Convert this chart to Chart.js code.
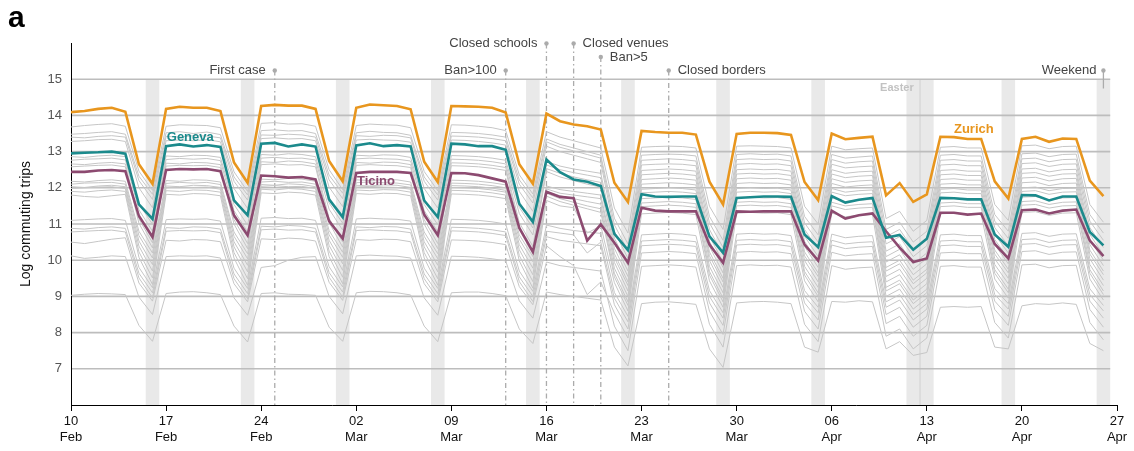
<!DOCTYPE html>
<html>
<head>
<meta charset="utf-8">
<script src="https://cdn.jsdelivr.net/npm/chart.js@4.4.1/dist/chart.umd.min.js"></script>
<style>
html, body { margin: 0; padding: 0; background: #fff; }
</style>
</head>
<body>
<canvas id="commute-chart" width="1134" height="451"></canvas>
<script>
// days since Mon 10 Feb 2020
const dayIndex = [];
for (let d = 0; d <= 76; d++) dayIndex.push(d);

const tickDays = [0, 7, 14, 21, 28, 35, 42, 49, 56, 63, 70, 77];
const tickLabels = [['10', 'Feb'], ['17', 'Feb'], ['24', 'Feb'], ['02', 'Mar'], ['09', 'Mar'], ['16', 'Mar'],
    ['23', 'Mar'], ['30', 'Mar'], ['06', 'Apr'], ['13', 'Apr'], ['20', 'Apr'], ['27', 'Apr']];
const yTicks = [7, 8, 9, 10, 11, 12, 13, 14, 15];

const weekendDays = [6, 13, 20, 27, 34, 41, 48, 55, 62, 63, 69, 76];
const eventDays = [15, 32, 35, 37, 39, 44];
const eventNames = ['First case', 'Ban>100', 'Closed schools', 'Closed venues', 'Ban>5', 'Closed borders'];

const zurich = [
    14.09, 14.12, 14.18, 14.21, 14.10, 12.65, 12.11,
    14.18, 14.24, 14.21, 14.21, 14.12, 12.70, 12.14,
    14.26, 14.29, 14.27, 14.27, 14.18, 12.74, 12.18,
    14.21, 14.30, 14.28, 14.26, 14.17, 12.72, 12.16,
    14.26, 14.25, 14.24, 14.21, 14.08, 12.65, 12.11,
    14.05, 13.84, 13.75, 13.70, 13.61, 12.14, 11.61,
    13.57, 13.54, 13.52, 13.52, 13.47, 12.17, 11.54,
    13.49, 13.52, 13.52, 13.51, 13.46, 12.16, 11.66,
    13.50, 13.34, 13.38, 13.41, 11.79, 12.13, 11.61, 11.82,
    13.41, 13.40, 13.35, 13.35, 12.18, 11.70,
    13.35, 13.41, 13.27, 13.36, 13.35, 12.20, 11.77];
const geneva = [
    12.95, 12.97, 12.98, 13.00, 12.94, 11.54, 11.14,
    13.15, 13.20, 13.14, 13.18, 13.13, 11.65, 11.24,
    13.22, 13.24, 13.14, 13.20, 13.14, 11.68, 11.19,
    13.17, 13.23, 13.15, 13.18, 13.14, 11.65, 11.19,
    13.22, 13.20, 13.15, 13.15, 13.05, 11.56, 11.06,
    12.78, 12.43, 12.23, 12.17, 12.05, 10.73, 10.28,
    11.82, 11.76, 11.75, 11.76, 11.76, 10.66, 10.21,
    11.72, 11.74, 11.76, 11.76, 11.75, 10.71, 10.36,
    11.77, 11.59, 11.67, 11.72, 10.62, 10.70, 10.29, 10.59,
    11.72, 11.71, 11.68, 11.68, 10.71, 10.37,
    11.80, 11.79, 11.65, 11.76, 11.76, 10.78, 10.41];
const ticino = [
    12.44, 12.44, 12.48, 12.49, 12.46, 11.22, 10.64,
    12.49, 12.52, 12.51, 12.52, 12.46, 11.24, 10.69,
    12.34, 12.32, 12.28, 12.30, 12.23, 11.08, 10.60,
    12.41, 12.44, 12.44, 12.44, 12.41, 11.26, 10.69,
    12.41, 12.40, 12.35, 12.26, 12.17, 10.89, 10.23,
    11.89, 11.75, 11.71, 10.54, 10.99, 10.48, 9.93,
    11.45, 11.37, 11.35, 11.35, 11.35, 10.43, 9.93,
    11.35, 11.34, 11.35, 11.35, 11.35, 10.43, 9.99,
    11.37, 11.15, 11.24, 11.29, 10.80, 10.35, 9.95, 10.05,
    11.31, 11.31, 11.26, 11.29, 10.45, 10.05,
    11.38, 11.40, 11.29, 11.37, 11.40, 10.54, 10.11];

// other cantons
const g01 = [
    13.68, 13.72, 13.75, 13.77, 13.70, 12.46, 11.93,
    13.70, 13.74, 13.73, 13.72, 13.66, 12.44, 11.90,
    13.78, 13.80, 13.76, 13.77, 13.70, 12.50, 11.95,
    13.72, 13.76, 13.74, 13.73, 13.66, 12.45, 11.92,
    13.74, 13.73, 13.70, 13.66, 13.58, 12.36, 11.83,
    13.55, 13.40, 13.30, 13.20, 13.10, 11.44, 10.75,
    13.12, 13.14, 13.15, 13.14, 13.10, 11.49, 10.85,
    13.15, 13.16, 13.15, 13.14, 13.10, 11.49, 11.00,
    13.15, 13.05, 13.08, 13.10, 11.15, 11.35, 10.80, 11.10,
    13.12, 13.14, 13.10, 13.10, 11.54, 11.10,
    13.16, 13.18, 13.08, 13.14, 13.15, 11.54, 11.05];
const g02 = [
    13.48, 13.50, 13.53, 13.55, 13.48, 12.32, 11.82,
    13.52, 13.55, 13.50, 13.54, 13.47, 12.30, 11.80,
    13.58, 13.60, 13.57, 13.58, 13.50, 12.35, 11.85,
    13.52, 13.56, 13.53, 13.52, 13.45, 12.30, 11.80,
    13.53, 13.52, 13.50, 13.46, 13.40, 12.22, 11.72,
    13.35, 13.20, 13.10, 13.00, 12.90, 11.16, 10.45,
    12.90, 12.92, 12.93, 12.92, 12.88, 11.21, 10.55,
    12.92, 12.94, 12.92, 12.93, 12.88, 11.21, 10.70,
    12.92, 12.82, 12.85, 12.88, 10.85, 11.05, 10.50, 10.80,
    12.90, 12.92, 12.88, 12.88, 11.26, 10.80,
    12.94, 12.96, 12.86, 12.92, 12.93, 11.26, 10.75];
const g03 = [
    13.40, 13.38, 13.42, 13.44, 13.40, 12.20, 11.68,
    13.42, 13.40, 13.44, 13.43, 13.38, 12.18, 11.66,
    13.46, 13.45, 13.48, 13.46, 13.40, 12.22, 11.70,
    13.44, 13.42, 13.45, 13.44, 13.38, 12.18, 11.66,
    13.43, 13.42, 13.40, 13.36, 13.30, 12.10, 11.58,
    13.27, 13.12, 13.02, 12.92, 12.82, 10.98, 10.25,
    12.76, 12.78, 12.80, 12.78, 12.74, 11.03, 10.35,
    12.78, 12.80, 12.78, 12.79, 12.74, 11.03, 10.50,
    12.78, 12.68, 12.72, 12.74, 10.65, 10.85, 10.30, 10.60,
    12.76, 12.78, 12.74, 12.74, 11.08, 10.60,
    12.80, 12.82, 12.72, 12.78, 12.79, 11.08, 10.55];
const g04 = [
    13.28, 13.30, 13.33, 13.34, 13.28, 12.00, 11.45,
    13.30, 13.32, 13.30, 13.33, 13.27, 11.98, 11.43,
    13.36, 13.38, 13.35, 13.36, 13.30, 12.02, 11.48,
    13.32, 13.34, 13.32, 13.31, 13.26, 11.98, 11.44,
    13.32, 13.31, 13.28, 13.24, 13.18, 11.90, 11.35,
    13.15, 13.00, 12.90, 12.80, 12.70, 10.80, 10.05,
    12.63, 12.65, 12.66, 12.65, 12.61, 10.85, 10.15,
    12.65, 12.67, 12.65, 12.66, 12.61, 10.85, 10.30,
    12.65, 12.55, 12.58, 12.60, 10.45, 10.65, 10.10, 10.40,
    12.63, 12.65, 12.61, 12.61, 10.90, 10.40,
    12.67, 12.69, 12.59, 12.65, 12.66, 10.90, 10.35];
const g05 = [
    12.86, 12.84, 12.88, 12.90, 12.86, 11.56, 10.99,
    12.88, 12.86, 12.90, 12.89, 12.84, 11.54, 10.97,
    12.92, 12.90, 12.94, 12.92, 12.86, 11.58, 11.02,
    12.90, 12.88, 12.91, 12.90, 12.84, 11.54, 10.98,
    12.89, 12.88, 12.86, 12.82, 12.76, 11.46, 10.89,
    12.73, 12.60, 12.52, 12.46, 12.40, 10.61, 9.85,
    12.48, 12.50, 12.52, 12.50, 12.46, 10.66, 9.95,
    12.50, 12.52, 12.50, 12.51, 12.46, 10.66, 10.10,
    12.50, 12.40, 12.44, 12.46, 10.25, 10.45, 9.90, 10.20,
    12.48, 12.50, 12.46, 12.46, 10.71, 10.20,
    12.52, 12.54, 12.44, 12.50, 12.51, 10.71, 10.15];
const g06 = [
    12.76, 12.79, 12.80, 12.82, 12.77, 11.39, 10.80,
    12.78, 12.81, 12.79, 12.81, 12.75, 11.37, 10.78,
    12.82, 12.84, 12.81, 12.82, 12.77, 11.41, 10.83,
    12.80, 12.82, 12.80, 12.79, 12.74, 11.37, 10.79,
    12.79, 12.78, 12.76, 12.72, 12.66, 11.29, 10.70,
    12.63, 12.50, 12.42, 12.35, 12.28, 10.47, 9.70,
    12.36, 12.38, 12.40, 12.38, 12.34, 10.52, 9.80,
    12.38, 12.40, 12.38, 12.39, 12.34, 10.52, 9.95,
    12.38, 12.28, 12.32, 12.34, 10.10, 10.30, 9.75, 10.05,
    12.36, 12.38, 12.34, 12.34, 10.57, 10.05,
    12.40, 12.42, 12.32, 12.38, 12.39, 10.57, 10.00];
const g07 = [
    12.66, 12.64, 12.68, 12.70, 12.66, 11.14, 10.48,
    12.68, 12.66, 12.70, 12.69, 12.64, 11.12, 10.46,
    12.72, 12.70, 12.74, 12.72, 12.66, 11.16, 10.50,
    12.70, 12.68, 12.71, 12.70, 12.64, 11.12, 10.46,
    12.69, 12.68, 12.66, 12.62, 12.56, 11.04, 10.38,
    12.53, 12.40, 12.30, 12.22, 12.15, 10.33, 9.55,
    12.23, 12.25, 12.27, 12.25, 12.21, 10.38, 9.65,
    12.25, 12.27, 12.25, 12.26, 12.21, 10.38, 9.80,
    12.25, 12.15, 12.19, 12.21, 9.95, 10.15, 9.60, 9.90,
    12.23, 12.25, 12.21, 12.21, 10.43, 9.90,
    12.27, 12.29, 12.19, 12.25, 12.26, 10.43, 9.85];
const g08 = [
    12.58, 12.60, 12.62, 12.63, 12.58, 11.02, 10.34,
    12.60, 12.62, 12.61, 12.62, 12.56, 11.00, 10.32,
    12.64, 12.66, 12.63, 12.64, 12.58, 11.04, 10.36,
    12.62, 12.64, 12.62, 12.61, 12.56, 11.00, 10.32,
    12.61, 12.60, 12.58, 12.54, 12.48, 10.92, 10.24,
    12.45, 12.30, 12.20, 12.10, 12.02, 10.18, 9.40,
    12.10, 12.12, 12.14, 12.12, 12.08, 10.23, 9.50,
    12.12, 12.14, 12.12, 12.13, 12.08, 10.23, 9.65,
    12.12, 12.02, 12.06, 12.08, 9.80, 10.00, 9.45, 9.75,
    12.10, 12.12, 12.08, 12.08, 10.28, 9.75,
    12.14, 12.16, 12.06, 12.12, 12.13, 10.28, 9.70];
const g09 = [
    12.18, 12.16, 12.20, 12.22, 12.18, 10.80, 10.20,
    12.20, 12.18, 12.22, 12.21, 12.16, 10.78, 10.18,
    12.24, 12.22, 12.26, 12.24, 12.18, 10.82, 10.22,
    12.22, 12.20, 12.23, 12.22, 12.16, 10.78, 10.18,
    12.21, 12.20, 12.18, 12.14, 12.08, 10.70, 10.10,
    12.05, 11.95, 11.90, 11.85, 11.80, 10.07, 9.30,
    11.96, 11.98, 12.00, 11.98, 11.94, 10.12, 9.40,
    11.98, 12.00, 11.98, 11.99, 11.94, 10.12, 9.55,
    11.98, 11.88, 11.92, 11.94, 9.70, 9.90, 9.35, 9.65,
    11.96, 11.98, 11.94, 11.94, 10.17, 9.65,
    12.00, 12.02, 11.92, 11.98, 11.99, 10.17, 9.60];
const g10 = [
    12.10, 12.13, 12.14, 12.15, 12.10, 10.68, 10.06,
    12.12, 12.15, 12.13, 12.15, 12.09, 10.66, 10.04,
    12.16, 12.18, 12.15, 12.16, 12.10, 10.70, 10.08,
    12.14, 12.16, 12.14, 12.13, 12.08, 10.66, 10.04,
    12.13, 12.12, 12.10, 12.06, 12.00, 10.58, 9.96,
    11.97, 11.85, 11.80, 11.75, 11.70, 9.94, 9.15,
    11.86, 11.88, 11.90, 11.88, 11.84, 9.99, 9.25,
    11.88, 11.90, 11.88, 11.89, 11.84, 9.99, 9.40,
    11.88, 11.78, 11.82, 11.84, 9.55, 9.75, 9.20, 9.50,
    11.86, 11.88, 11.84, 11.84, 10.04, 9.50,
    11.90, 11.92, 11.82, 11.88, 11.89, 10.04, 9.45];
const g11 = [
    12.03, 12.01, 12.05, 12.07, 12.03, 10.53, 9.88,
    12.05, 12.03, 12.07, 12.06, 12.01, 10.51, 9.86,
    12.09, 12.07, 12.11, 12.09, 12.03, 10.55, 9.90,
    12.07, 12.05, 12.08, 12.07, 12.01, 10.51, 9.86,
    12.06, 12.05, 12.03, 11.99, 11.93, 10.43, 9.78,
    11.90, 11.78, 11.70, 11.62, 11.55, 9.78, 9.00,
    11.70, 11.72, 11.74, 11.72, 11.68, 9.83, 9.10,
    11.72, 11.74, 11.72, 11.73, 11.68, 9.83, 9.25,
    11.72, 11.62, 11.66, 11.68, 9.40, 9.60, 9.05, 9.35,
    11.70, 11.72, 11.68, 11.68, 9.88, 9.35,
    11.74, 11.76, 11.66, 11.72, 11.73, 9.88, 9.30];
const g12 = [
    11.98, 12.00, 12.02, 12.03, 11.98, 10.39, 9.70,
    12.00, 12.02, 12.01, 12.02, 11.96, 10.37, 9.68,
    12.04, 12.06, 12.03, 12.04, 11.98, 10.41, 9.72,
    12.02, 12.04, 12.02, 12.01, 11.96, 10.37, 9.68,
    12.01, 12.00, 11.98, 11.94, 11.88, 10.29, 9.60,
    11.85, 11.70, 11.60, 11.50, 11.42, 9.64, 8.85,
    11.58, 11.60, 11.62, 11.60, 11.56, 9.69, 8.95,
    11.60, 11.62, 11.60, 11.61, 11.56, 9.69, 9.10,
    11.60, 11.50, 11.54, 11.56, 9.25, 9.45, 8.90, 9.20,
    11.58, 11.60, 11.56, 11.56, 9.74, 9.20,
    11.62, 11.64, 11.54, 11.60, 11.61, 9.74, 9.15];
const g13 = [
    11.90, 11.88, 11.92, 11.94, 11.90, 10.23, 9.51,
    11.92, 11.90, 11.94, 11.93, 11.88, 10.21, 9.49,
    11.96, 11.94, 11.98, 11.96, 11.90, 10.25, 9.53,
    11.94, 11.92, 11.95, 11.94, 11.88, 10.21, 9.49,
    11.93, 11.92, 11.90, 11.86, 11.80, 10.13, 9.41,
    11.77, 11.62, 11.52, 11.42, 11.32, 9.54, 8.75,
    11.48, 11.50, 11.52, 11.50, 11.46, 9.59, 8.85,
    11.50, 11.52, 11.50, 11.51, 11.46, 9.59, 9.00,
    11.50, 11.40, 11.44, 11.46, 9.15, 9.35, 8.80, 9.10,
    11.48, 11.50, 11.46, 11.46, 9.64, 9.10,
    11.52, 11.54, 11.44, 11.50, 11.51, 9.64, 9.05];
const g14 = [
    11.80, 11.76, 11.74, 11.78, 11.82, 10.08, 9.33,
    11.82, 11.80, 11.84, 11.83, 11.78, 10.06, 9.31,
    11.86, 11.84, 11.88, 11.86, 11.80, 10.10, 9.35,
    11.84, 11.82, 11.85, 11.84, 11.78, 10.06, 9.31,
    11.83, 11.82, 11.80, 11.76, 11.70, 9.98, 9.23,
    11.65, 11.50, 11.45, 10.75, 10.95, 9.38, 8.60,
    11.28, 11.30, 11.32, 11.30, 11.26, 9.43, 8.70,
    11.30, 11.32, 11.30, 11.31, 11.26, 9.43, 8.85,
    11.30, 11.20, 11.24, 11.26, 9.00, 9.20, 8.65, 8.95,
    11.28, 11.30, 11.26, 11.26, 9.48, 8.95,
    11.32, 11.34, 11.24, 11.30, 11.31, 9.48, 8.90];
const g15 = [
    11.10, 11.12, 11.14, 11.15, 11.10, 9.80, 9.24,
    11.12, 11.14, 11.13, 11.14, 11.08, 9.78, 9.22,
    11.16, 11.18, 11.15, 11.16, 11.10, 9.82, 9.26,
    11.14, 11.16, 11.14, 11.13, 11.08, 9.78, 9.22,
    11.13, 11.12, 11.10, 11.06, 11.00, 9.70, 9.14,
    10.97, 10.88, 10.82, 10.78, 10.74, 9.11, 8.45,
    10.70, 10.72, 10.74, 10.72, 10.68, 9.16, 8.55,
    10.72, 10.74, 10.72, 10.73, 10.68, 9.16, 8.70,
    10.72, 10.62, 10.66, 10.68, 8.85, 9.05, 8.50, 8.80,
    10.70, 10.72, 10.68, 10.68, 9.21, 8.80,
    10.74, 10.76, 10.66, 10.72, 10.73, 9.21, 8.75];
const g16 = [
    10.88, 10.86, 10.90, 10.92, 10.88, 9.64, 9.10,
    10.90, 10.88, 10.92, 10.91, 10.86, 9.62, 9.08,
    10.94, 10.92, 10.96, 10.94, 10.88, 9.66, 9.12,
    10.92, 10.90, 10.93, 10.92, 10.86, 9.62, 9.08,
    10.91, 10.90, 10.88, 10.84, 10.78, 9.54, 9.00,
    10.80, 10.75, 10.70, 10.20, 10.50, 8.95, 8.30,
    10.53, 10.55, 10.57, 10.55, 10.51, 9.00, 8.40,
    10.55, 10.57, 10.55, 10.56, 10.51, 9.00, 8.55,
    10.55, 10.45, 10.49, 10.51, 8.70, 8.90, 8.35, 8.65,
    10.53, 10.55, 10.51, 10.51, 9.05, 8.65,
    10.57, 10.59, 10.49, 10.55, 10.56, 9.05, 8.60];
const g17 = [
    10.78, 10.80, 10.82, 10.83, 10.78, 9.51, 8.96,
    10.80, 10.82, 10.81, 10.82, 10.76, 9.49, 8.94,
    10.84, 10.86, 10.83, 10.84, 10.78, 9.53, 8.98,
    10.82, 10.84, 10.82, 10.81, 10.76, 9.49, 8.94,
    10.81, 10.80, 10.78, 10.74, 10.68, 9.41, 8.86,
    10.65, 10.55, 10.50, 10.45, 10.40, 8.77, 8.10,
    10.40, 10.42, 10.44, 10.42, 10.38, 8.82, 8.20,
    10.42, 10.44, 10.42, 10.43, 10.38, 8.82, 8.35,
    10.42, 10.32, 10.36, 10.38, 8.50, 8.70, 8.15, 8.45,
    10.40, 10.42, 10.38, 10.38, 8.87, 8.45,
    10.44, 10.46, 10.36, 10.42, 10.43, 8.87, 8.40];
const g18 = [
    10.50, 10.46, 10.52, 10.58, 10.62, 9.37, 8.87,
    10.55, 10.53, 10.57, 10.56, 10.51, 9.35, 8.85,
    10.59, 10.57, 10.61, 10.59, 10.53, 9.39, 8.89,
    10.57, 10.55, 10.58, 10.57, 10.51, 9.35, 8.85,
    10.56, 10.55, 10.53, 10.49, 10.43, 9.27, 8.77,
    10.40, 10.10, 9.85, 9.05, 9.40, 8.54, 7.85,
    10.20, 10.22, 10.24, 10.22, 10.18, 8.59, 7.95,
    10.22, 10.24, 10.22, 10.23, 10.18, 8.59, 8.10,
    10.22, 10.12, 10.16, 10.18, 8.25, 8.45, 7.90, 8.20,
    10.20, 10.22, 10.18, 10.18, 8.64, 8.20,
    10.24, 10.26, 10.16, 10.22, 10.23, 8.64, 8.15];
const g19 = [
    10.12, 10.05, 10.08, 10.12, 10.10, 8.98, 8.50,
    10.10, 10.12, 10.11, 10.12, 10.06, 8.96, 8.48,
    9.80, 9.85, 10.00, 10.08, 10.10, 9.00, 8.52,
    10.12, 10.14, 10.12, 10.11, 10.06, 8.96, 8.48,
    10.11, 10.10, 10.08, 10.04, 9.98, 8.88, 8.40,
    9.95, 9.85, 9.80, 9.75, 9.70, 8.18, 7.50,
    9.83, 9.85, 9.87, 9.85, 9.81, 8.23, 7.60,
    9.85, 9.87, 9.85, 9.86, 9.81, 8.23, 7.75,
    9.85, 9.75, 9.79, 9.81, 7.90, 8.10, 7.55, 7.85,
    9.83, 9.85, 9.81, 9.81, 8.28, 7.85,
    9.87, 9.89, 9.79, 9.85, 9.86, 8.28, 7.80];
const g20 = [
    9.03, 9.06, 9.08, 9.07, 9.05, 8.20, 7.76,
    9.08, 9.12, 9.13, 9.10, 9.05, 8.18, 7.74,
    9.08, 9.10, 9.06, 9.05, 9.03, 8.15, 7.76,
    9.10, 9.14, 9.13, 9.10, 9.04, 8.18, 7.75,
    9.10, 9.12, 9.12, 9.08, 9.02, 8.10, 7.70,
    9.12, 9.05, 9.00, 8.95, 8.90, 7.60, 7.08,
    8.80, 8.84, 8.85, 8.82, 8.78, 7.55, 7.04,
    8.82, 8.85, 8.86, 8.84, 8.80, 7.60, 7.46,
    8.86, 8.84, 8.88, 8.85, 7.55, 7.75, 7.37, 7.45,
    8.70, 8.72, 8.70, 8.72, 7.60, 7.55,
    8.74, 8.80, 8.78, 8.82, 8.78, 7.70, 7.50];
const otherCantons = [g01, g02, g03, g04, g05, g06, g07, g08, g09, g10,
    g11, g12, g13, g14, g15, g16, g17, g18, g19, g20];

const FONT = "'Liberation Sans', Arial, Helvetica, sans-serif";
Chart.defaults.font.family = FONT;

const ORANGE = '#e8961e';
const TEAL = '#1b8a8c';
const PURPLE = '#8c4a70';

// bands, gridlines and event lines under the data
const underlay = {
    id: 'underlay',
    beforeDraw(chart) {
        const { ctx, chartArea: a, scales: { x, y } } = chart;
        const top = y.getPixelForValue(15);
        ctx.save();
        ctx.fillStyle = '#e9e9e9';
        weekendDays.forEach(d => {
            const l = x.getPixelForValue(d - 0.5);
            const r = x.getPixelForValue(d + 0.5);
            ctx.fillRect(l, top, r - l, a.bottom - top);
        });
        // easter sunday / monday split
        const ex = x.getPixelForValue(62.5);
        ctx.strokeStyle = '#d0d0d0';
        ctx.lineWidth = 1;
        ctx.beginPath(); ctx.moveTo(ex, top); ctx.lineTo(ex, a.bottom); ctx.stroke();

        ctx.strokeStyle = '#bdbdbd';
        ctx.lineWidth = 1.6;
        const gr = x.getPixelForValue(76.5);
        yTicks.forEach(v => {
            const py = y.getPixelForValue(v);
            ctx.beginPath(); ctx.moveTo(a.left, py); ctx.lineTo(gr, py); ctx.stroke();
        });

        // event lines
        const rows = [2, 2, 0, 0, 1, 2];
        ctx.strokeStyle = '#ababab';
        ctx.fillStyle = '#ababab';
        ctx.lineWidth = 1.3;
        eventDays.forEach((d, i) => {
            const px = x.getPixelForValue(d);
            const py = a.top + 0.5 + rows[i] * 13.5;
            ctx.setLineDash([5, 3, 1.5, 3]);
            ctx.beginPath(); ctx.moveTo(px, py); ctx.lineTo(px, a.bottom); ctx.stroke();
            ctx.setLineDash([]);
            ctx.beginPath(); ctx.arc(px, py, 2.2, 0, Math.PI * 2); ctx.fill();
        });
        // weekend key
        const wx = x.getPixelForValue(76);
        const wy = a.top + 27.5;
        ctx.beginPath(); ctx.moveTo(wx, wy); ctx.lineTo(wx, wy + 18); ctx.stroke();
        ctx.beginPath(); ctx.arc(wx, wy, 2.2, 0, Math.PI * 2); ctx.fill();
        ctx.restore();
    },
    afterDraw(chart) {
        const { ctx, chartArea: a, scales: { x, y } } = chart;
        ctx.save();
        ctx.textBaseline = 'middle';
        ctx.font = '13px ' + FONT;
        ctx.fillStyle = '#444';
        const rows = [2, 2, 0, 0, 1, 2];
        const sides = ['left', 'left', 'left', 'right', 'right', 'right'];
        eventDays.forEach((d, i) => {
            const px = x.getPixelForValue(d);
            const py = a.top + 0.5 + rows[i] * 13.5;
            if (sides[i] === 'left') {
                ctx.textAlign = 'right';
                ctx.fillText(eventNames[i], px - 9, py);
            } else {
                ctx.textAlign = 'left';
                ctx.fillText(eventNames[i], px + 9, py);
            }
        });
        ctx.textAlign = 'right';
        ctx.fillText('Weekend', x.getPixelForValue(76) - 7, a.top + 27.5);

        ctx.font = 'bold 11px ' + FONT;
        ctx.fillStyle = '#c2c2c2';
        ctx.textAlign = 'center';
        ctx.fillText('Easter', x.getPixelForValue(60.8), y.getPixelForValue(14.75));

        ctx.font = 'bold 13px ' + FONT;
        ctx.textAlign = 'left';
        ctx.fillStyle = TEAL;
        ctx.fillText('Geneva', x.getPixelForValue(7.05), y.getPixelForValue(13.4));
        ctx.fillStyle = PURPLE;
        ctx.fillText('Ticino', x.getPixelForValue(21.05), y.getPixelForValue(12.18));
        ctx.fillStyle = ORANGE;
        ctx.fillText('Zurich', x.getPixelForValue(65), y.getPixelForValue(13.6));

        // panel letter
        ctx.font = 'bold 30px ' + FONT;
        ctx.fillStyle = '#000';
        ctx.textBaseline = 'alphabetic';
        ctx.fillText('a', 8, 27);
        ctx.restore();
    }
};

let datasets = [
    { label: 'Zurich', data: zurich, borderColor: ORANGE, borderWidth: 2.6 },
    { label: 'Geneva', data: geneva, borderColor: TEAL, borderWidth: 2.6 },
    { label: 'Ticino', data: ticino, borderColor: PURPLE, borderWidth: 2.6 }
];
otherCantons.forEach((el, i) => {
    datasets.push({ label: 'canton' + (i + 1), data: el, borderColor: '#c6c6c6', borderWidth: 1 });
});
datasets.forEach(ds => {
    ds.pointRadius = 0;
    ds.tension = 0;
    ds.fill = false;
});

const chart = new Chart(document.getElementById('commute-chart'), {
    type: 'line',
    data: { labels: dayIndex, datasets: datasets },
    options: {
        responsive: false,
        animation: false,
        devicePixelRatio: 1,
        layout: { padding: { top: 43, right: 17, left: 0, bottom: 0 } },
        plugins: { legend: { display: false }, tooltip: { enabled: false } },
        scales: {
            x: {
                type: 'linear',
                min: 0,
                max: 77,
                afterBuildTicks: s => { s.ticks = tickDays.map(v => ({ value: v })); },
                afterFit: s => { s.height = 46; },
                grid: { display: true, drawOnChartArea: false, drawTicks: true, tickLength: 6, color: '#000', lineWidth: 1 },
                border: { display: true, color: '#000', width: 1 },
                ticks: {
                    autoSkip: false,
                    maxRotation: 0,
                    padding: 3,
                    color: '#111',
                    font: { size: 13 },
                    callback: (v, i) => tickLabels[i]
                }
            },
            y: {
                min: 6,
                max: 16,
                afterBuildTicks: s => { s.ticks = yTicks.map(v => ({ value: v })); },
                afterFit: s => { s.width = 71; },
                grid: { display: false, drawTicks: false },
                border: { display: true, color: '#000', width: 1 },
                ticks: { padding: 9, color: '#555', font: { size: 13 } },
                title: {
                    display: true,
                    text: 'Log commuting trips',
                    color: '#111',
                    font: { size: 14 },
                    padding: { top: 18, bottom: 0 }
                }
            }
        }
    },
    plugins: [underlay]
});
</script>
</body>
</html>
